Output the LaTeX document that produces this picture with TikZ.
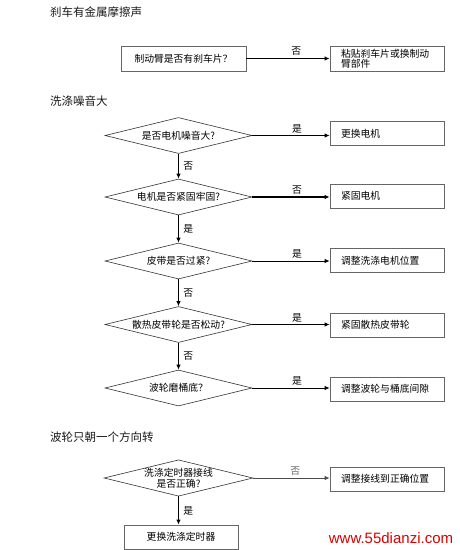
\documentclass[tikz,border=0pt]{standalone}
\usepackage{fontspec}
\setmainfont{Noto Sans CJK SC}
\newfontfamily\wmfont{Liberation Sans}
\usetikzlibrary{shapes.geometric,arrows.meta}
\begin{document}
\begin{tikzpicture}[x=1pt,y=-1pt,
  every node/.style={font=\fontsize{9.8}{11.5}\selectfont, text=black},
  title/.style={anchor=west, font=\fontsize{11.5}{13}\selectfont, text=black!90, inner sep=0pt},
  box/.style={draw=black!60, line width=0.8pt, minimum width=114pt, minimum height=24pt, inner sep=0pt},
  rbox/.style={box, text width=92pt, align=left, inner xsep=11pt},
  dia/.style={draw=black!80, line width=0.6pt, diamond, aspect=4.1, minimum width=147pt, minimum height=36pt, inner sep=0pt, align=center},
  thickarrow/.style={draw=black, line width=1.6pt, -{Latex[length=5pt,width=4.5pt]}},
  thinarrow/.style={draw=black, line width=0.8pt, -{Latex[length=5pt,width=4.5pt]}},
  lbl/.style={font=\fontsize{9.8}{11}\selectfont, inner sep=1pt}
]
\useasboundingbox (0,0) rectangle (460,550);

% section 1
\node[title] (t1) at (50,12) {刹车有金属摩擦声};
\node[box, minimum width=125pt, minimum height=25pt] (b1) at (183.5,58.5) {制动臂是否有刹车片？};
\node[rbox, minimum height=25pt] (b2) at (387,58.5) {粘贴刹车片或换制动\\[-2pt]臂部件};
\draw[thickarrow] (b1.east) -- (b2.west) node[lbl, pos=0.6, above=1pt] {否};

% section 2
\node[title] (t2) at (50,101) {洗涤噪音大};
\node[dia] (d1) at (178.5,135.5) {是否电机噪音大?};
\node[dia] (d2) at (178.5,197) {电机是否紧固牢固?};
\node[dia] (d3) at (178.5,261) {皮带是否过紧?};
\node[dia] (d4) at (178.5,324.5) {散热皮带轮是否松动?};
\node[dia] (d5) at (178.5,388) {波轮磨桶底？};

\node[rbox] (r1) at (387,133.5) {更换电机};
\node[rbox] (r2) at (387,196) {紧固电机};
\node[rbox] (r3) at (387,260.5) {调整洗涤电机位置};
\node[rbox] (r4) at (387,325) {紧固散热皮带轮};
\node[rbox] (r5) at (387,389) {调整波轮与桶底间隙};

\draw[thinarrow] (d1.east) -- (d1.east -| r1.west) node[lbl, pos=0.58, above=1pt] {是};
\draw[thickarrow] (d2.east) -- (d2.east -| r2.west) node[lbl, pos=0.58, above=1pt] {否};
\draw[thinarrow] (d3.east) -- (d3.east -| r3.west) node[lbl, pos=0.58, above=1pt] {是};
\draw[thinarrow] (d4.east) -- (d4.east -| r4.west) node[lbl, pos=0.58, above=1pt] {是};
\draw[thinarrow] (d5.east) -- (d5.east -| r5.west) node[lbl, pos=0.58, above=1pt] {是};

\draw[thickarrow] (d1.south) -- (d2.north) node[lbl, midway, right=3pt] {否};
\draw[thickarrow] (d2.south) -- (d3.north) node[lbl, midway, right=3pt] {是};
\draw[thickarrow] (d3.south) -- (d4.north) node[lbl, midway, right=3pt] {否};
\draw[thickarrow] (d4.south) -- (d5.north) node[lbl, midway, right=3pt] {否};

% section 3
\node[title] (t3) at (50,437) {波轮只朝一个方向转};
\node[dia, font=\fontsize{9.8}{10.5}\selectfont] (d6) at (178.5,478) {洗涤定时器接线\\是否正确?};
\node[rbox] (r6) at (387,479) {调整接线到正确位置};
\node[box] (b3) at (181,537) {更换洗涤定时器};
\draw[thinarrow, draw=black!70] (d6.east) -- (d6.east -| r6.west) node[lbl, pos=0.55, above=1pt, text=black!60] {否};
\draw[thickarrow] (d6.south) -- (d6.south |- b3.north) node[lbl, midway, right=3pt] {是};

% watermark
\node[font=\wmfont\fontsize{15}{16}\selectfont, text=red!85!black, inner sep=0pt] (wm) at (391,538) {www.55dianzi.com};
\end{tikzpicture}
\end{document}
